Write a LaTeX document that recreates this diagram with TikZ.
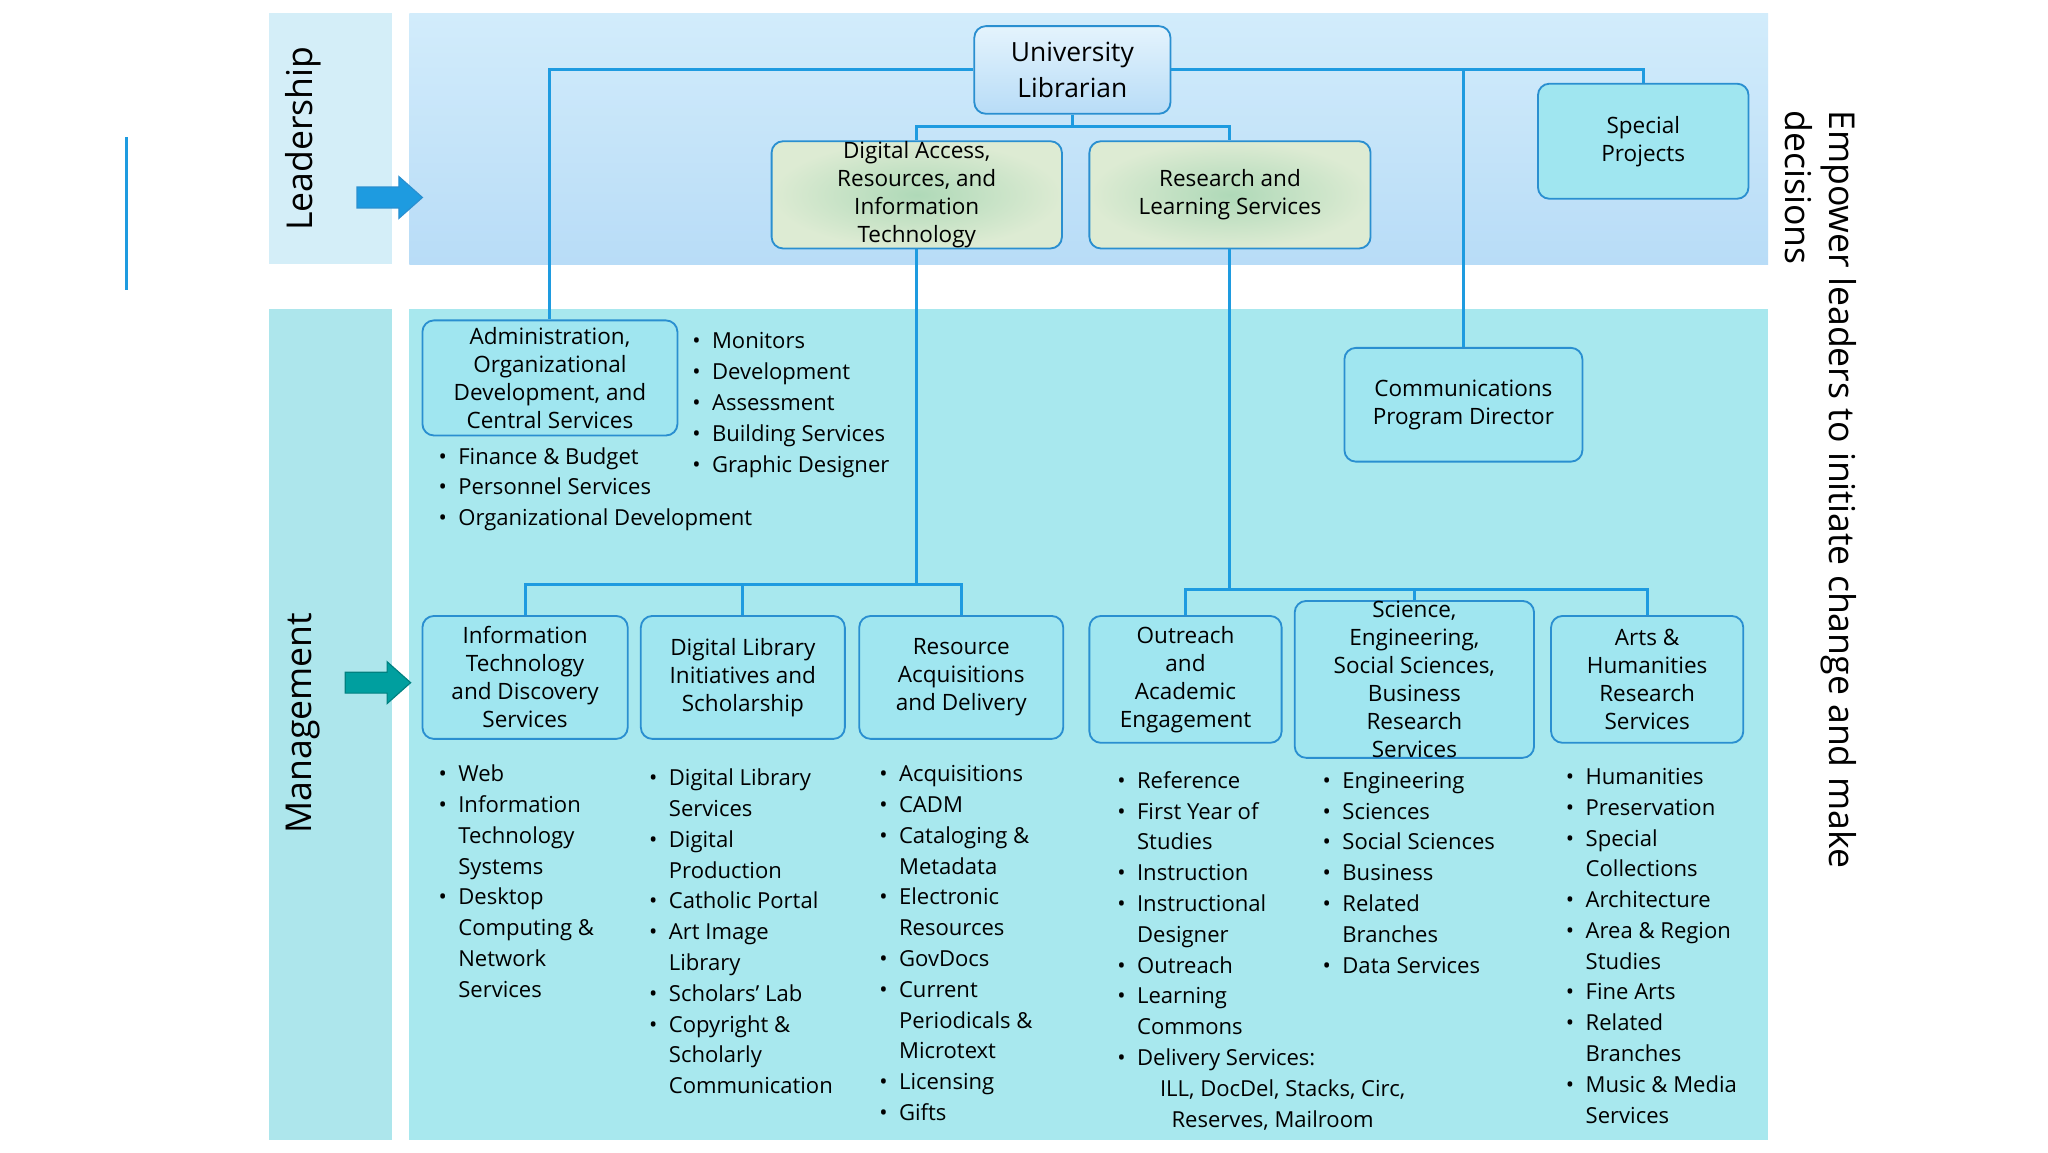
\documentclass[tikz,border=0pt]{standalone}
\usepackage{fontspec}
\setmainfont{Open Sans}
\usetikzlibrary{arrows.meta}
\definecolor{ln}{HTML}{1E9BE0}
\definecolor{bd}{HTML}{2A8FD0}
\definecolor{leadL}{HTML}{D4EEF8}
\definecolor{mgmt}{HTML}{A8E8EE}
\definecolor{mgmtL}{HTML}{ADE6EC}
\definecolor{boxc}{HTML}{A0E6F0}
\definecolor{gA}{HTML}{DDEBD3}
\definecolor{gB}{HTML}{AFD9B8}
\definecolor{lbT}{HTML}{D2ECFB}
\definecolor{lbB}{HTML}{B8DCF7}
\newcommand\bu{\textbullet}
\newcommand\blist[1]{{\fontsize{9.6}{13.4}\selectfont\begin{tabular}{@{}c@{\hspace{5pt}}l@{}}#1\end{tabular}}}
\begin{document}
\begin{tikzpicture}[x=0.02cm,y=-0.02cm,
  box/.style={draw=bd,line width=0.8pt,rounded corners=5pt,align=center,inner sep=0pt,font=\fontsize{9.8}{12.2}\selectfont},
  cbox/.style={box,fill=boxc},
  gbox/.style={box,inner color=gB,outer color=gA},
  conn/.style={draw=ln,line width=1.3pt},
  bl/.style={anchor=north west,inner sep=0pt}]
\useasboundingbox (0,0) rectangle (1566,881);
\fill[white] (0,0) rectangle (1566,881);
% bands
\fill[leadL] (206,10) rectangle (300,202);
\shade[top color=lbT,bottom color=lbB] (313,10) rectangle (1352,202);
\fill[mgmtL] (206,236) rectangle (300,872);
\fill[mgmt] (313,236) rectangle (1352,872);
\draw[ln,line width=1.3pt] (97,105) -- (97,222);
\node[rotate=90,font=\fontsize{15.5}{18}\selectfont] (lead) at (232,106) {Leadership};
\node[rotate=90,font=\fontsize{15.5}{18}\selectfont] (mg) at (232,553) {Management};
\filldraw[fill=ln,draw=bd,line width=0.5pt] (273,143) -- (305,143) -- (305,135) -- (323,151) -- (305,167) -- (305,159) -- (273,159) -- cycle;
\filldraw[fill=teal!75!cyan,draw=teal,line width=0.5pt] (264,514) -- (296,514) -- (296,506) -- (314,522) -- (296,538) -- (296,530) -- (264,530) -- cycle;
\node[rotate=-90,anchor=north west,align=left,inner sep=0pt,font=\fontsize{15.5}{19}\selectfont] (emp) at (1420,84) {Empower leaders to initiate change and make\\decisions};
% boxes
\node[box,top color=lbT!60!white,bottom color=lbB,minimum width=150*0.02cm,minimum height=67*0.02cm,font=\fontsize{11.5}{15.4}\selectfont] (ul) at (820,53.5) {University\\Librarian};
\node[gbox,minimum width=222*0.02cm,minimum height=82*0.02cm] (dar) at (701,149) {Digital Access,\\Resources, and\\Information\\Technology};
\node[gbox,minimum width=215*0.02cm,minimum height=82*0.02cm] (rls) at (940.5,149) {Research and\\Learning Services};
\node[cbox,minimum width=161*0.02cm,minimum height=88*0.02cm] (sp) at (1256.5,108) {Special\\Projects};
\node[cbox,minimum width=195*0.02cm,minimum height=88*0.02cm] (adm) at (420.5,289) {Administration,\\Organizational\\Development, and\\Central Services};
\node[cbox,minimum width=182*0.02cm,minimum height=87*0.02cm] (com) at (1119,309.5) {Communications\\Program Director};
\node[cbox,minimum width=157*0.02cm,minimum height=94*0.02cm] (it) at (401.5,518) {Information\\Technology\\and Discovery\\Services};
\node[cbox,minimum width=156*0.02cm,minimum height=94*0.02cm] (dl) at (568,518) {Digital Library\\Initiatives and\\Scholarship};
\node[cbox,minimum width=156*0.02cm,minimum height=94*0.02cm] (rad) at (735,518) {Resource\\Acquisitions\\and Delivery};
\node[cbox,minimum width=147*0.02cm,minimum height=97*0.02cm] (oae) at (906.5,519.5) {Outreach\\and\\Academic\\Engagement};
\node[cbox,minimum width=183*0.02cm,minimum height=97*0.02cm] (ses) at (1081.5,519.5) {Science,\\Engineering,\\Social Sciences,\\Business\\Research\\Services};
\node[cbox,minimum width=147*0.02cm,minimum height=97*0.02cm] (ahr) at (1259.5,519.5) {Arts \&\\Humanities\\Research\\Services};
% connectors
\draw[conn] (ul.west) -| (adm.north);
\draw[conn] (ul.east) -| (sp.north);
\draw[conn] (1119,53.5) -- (com.north);
\draw[conn] (ul.south) -- (820,97) -| (dar.north);
\draw[conn] (820,97) -| (rls.north);
\draw[conn] (dar.south) -- (701,447) -| (it.north);
\draw[conn] (568,447) -- (dl.north);
\draw[conn] (701,447) -| (rad.north);
\draw[conn] (rls.south) -- (940.5,451) -| (oae.north);
\draw[conn] (1081.5,451) -- (ses.north);
\draw[conn] (940.5,451) -| (ahr.north);
% lists
\node[bl] (l1) at (529,250) {\blist{\bu & Monitors\\ \bu & Development\\ \bu & Assessment\\ \bu & Building Services\\ \bu & Graphic Designer}};
\node[bl] (l2) at (335,338) {\blist{\bu & Finance \& Budget\\ \bu & Personnel Services\\ \bu & Organizational Development}};
\node[bl] (l3) at (335,581) {\blist{\bu & Web\\ \bu & Information\\ & Technology\\ & Systems\\ \bu & Desktop\\ & Computing \&\\ & Network\\ & Services}};
\node[bl] (l4) at (496,584) {\blist{\bu & Digital Library\\ & Services\\ \bu & Digital\\ & Production\\ \bu & Catholic Portal\\ \bu & Art Image\\ & Library\\ \bu & Scholars’ Lab\\ \bu & Copyright \&\\ & Scholarly\\ & Communication}};
\node[bl] (l5) at (672,581) {\blist{\bu & Acquisitions\\ \bu & CADM\\ \bu & Cataloging \&\\ & Metadata\\ \bu & Electronic\\ & Resources\\ \bu & GovDocs\\ \bu & Current\\ & Periodicals \&\\ & Microtext\\ \bu & Licensing\\ \bu & Gifts}};
\node[bl] (l6) at (854,586) {\blist{\bu & Reference\\ \bu & First Year of\\ & Studies\\ \bu & Instruction\\ \bu & Instructional\\ & Designer\\ \bu & Outreach\\ \bu & Learning\\ & Commons\\ \bu & Delivery Services:\\ & \hspace{10pt}ILL,\ DocDel, Stacks,\ Circ,\\ & \hspace{15pt}Reserves, Mailroom}};
\node[bl] (l7) at (1011,586) {\blist{\bu & Engineering\\ \bu & Sciences\\ \bu & Social Sciences\\ \bu & Business\\ \bu & Related\\ & Branches\\ \bu & Data Services}};
\node[bl] (l8) at (1197,583) {\blist{\bu & Humanities\\ \bu & Preservation\\ \bu & Special\\ & Collections\\ \bu & Architecture\\ \bu & Area \& Region\\ & Studies\\ \bu & Fine Arts\\ \bu & Related\\ & Branches\\ \bu & Music \& Media\\ & Services}};
\end{tikzpicture}
\end{document}
